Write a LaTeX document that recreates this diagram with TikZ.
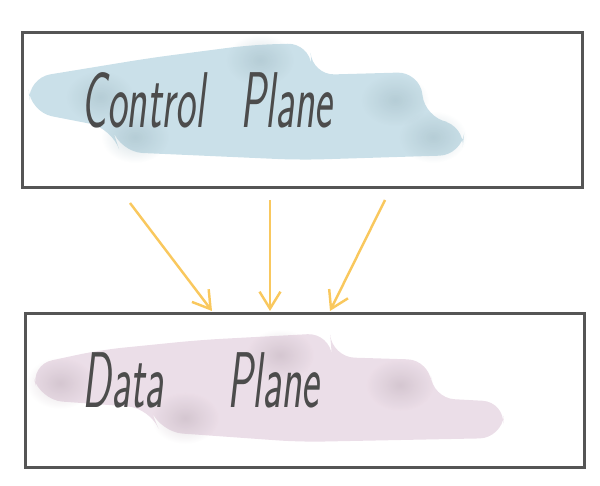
\documentclass[tikz,border=0pt]{standalone}
\usepackage{tikz}
\usetikzlibrary{arrows.meta,positioning,fadings}
\usepackage{xcolor}
\definecolor{boxgray}{HTML}{555555}
\definecolor{washblue}{HTML}{B4D3DF}
\definecolor{washpink}{HTML}{E3D0DE}
\definecolor{arrowyellow}{HTML}{F9C85E}
\tikzfading[name=soft spot,inner color=transparent!30,outer color=transparent!100]
\tikzset{
  plane box/.style={draw=boxgray,line width=1.7pt,minimum width=11.2cm,minimum height=3.1cm},
  wash/.style={rounded corners=0.45cm},
  spot/.style={path fading=soft spot,opacity=0.6},
  push/.style={arrowyellow,line width=1.4pt,-{Straight Barb[length=3.4mm,width=4.2mm]}},
  label text/.style={font=\fontsize{30}{34}\selectfont\sffamily\slshape,text=boxgray!90!black}
}

\begin{document}
\begin{tikzpicture}[x=0.02cm,y=-0.02cm]
\useasboundingbox (0,0) rectangle (600,486);
% watercolour washes
\begin{scope}[transparency group,opacity=0.7]
\fill[washblue,wash] (28,78) -- (150,58) -- (250,45) -- (310,43) -- (312,75) -- (420,72) -- (425,118)
  -- (465,125) -- (462,155) -- (300,160) -- (120,152) -- (112,128) -- (30,112) -- cycle;
\fill[washpink,wash] (30,365) -- (100,350) -- (200,340) -- (330,333) -- (332,357) -- (430,360) -- (432,398)
  -- (505,402) -- (502,438) -- (300,442) -- (160,432) -- (150,408) -- (40,400) -- cycle;
\end{scope}
\foreach \x/\y in {100/97,260/60,395/100,433/137,135/137}
  \fill[washblue!85!black,spot] (\x,\y) ellipse (34 and 26);
\foreach \x/\y in {60/383,185/418,280/355,400/385}
  \fill[washpink!80!black,spot] (\x,\y) ellipse (34 and 26);
% planes
\node[plane box] (control) at (302.5,110) {};
\node[plane box] (data) at (305,390.5) {};
\node[label text] (ctext) at (207,100) {\scalebox{0.8}[1.5]{Control\hspace{0.9cm}Plane}};
\node[label text] (dtext) at (201,380) {\scalebox{0.8}[1.5]{Data\hspace{1.6cm}Plane}};
% arrows
\coordinate (c1) at (130,203);
\coordinate (c2) at (270,200);
\coordinate (c3) at (385,200);
\coordinate (d1) at (212,311);
\coordinate (d2) at (270,311);
\coordinate (d3) at (330,311);
\draw[push] (c1) -- (d1);
\draw[push] (c2) -- (d2);
\draw[push] (c3) -- (d3);
\end{tikzpicture}
\end{document}
